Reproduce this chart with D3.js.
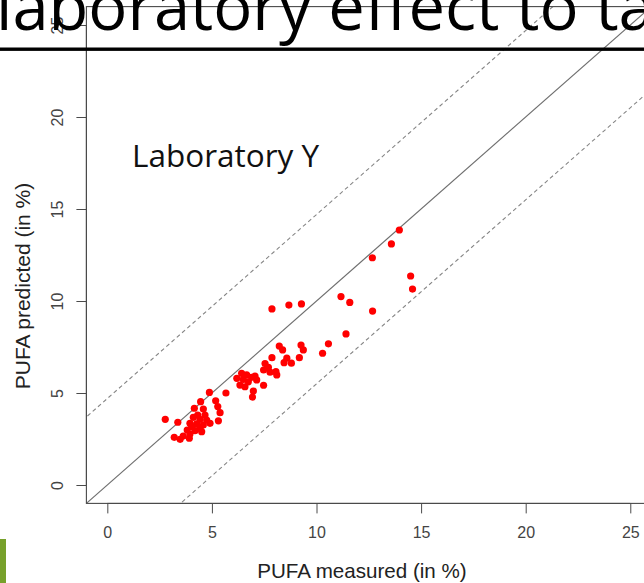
<!DOCTYPE html>
<html>
<head>
<meta charset="utf-8">
<script src="https://cdn.jsdelivr.net/npm/d3@7"></script>
<style>
  html, body { margin: 0; padding: 0; background: #fff; }
  svg { display: block; }
</style>
</head>
<body>
<script>
// PUFA content: reference measurement vs. model prediction, Laboratory Y
const measured = [
  13.96, 13.58, 12.67, 14.50, 14.59, 11.17, 11.59, 12.68, 7.87, 8.68,
  9.28, 11.41, 10.57, 10.29, 8.22, 8.38, 9.26, 9.37, 7.87, 9.18,
  8.58, 8.80, 8.45, 7.54, 7.70, 7.47, 8.06, 7.78, 8.10, 7.47,
  6.98, 6.94, 5.67, 4.88, 6.42, 6.66, 6.90, 6.19, 6.50, 6.74,
  7.06, 6.34, 6.58, 7.14, 2.77, 3.37, 4.46, 5.18, 5.28, 4.16,
  4.59, 5.39, 4.67, 4.32, 4.11, 4.43, 4.75, 4.91, 5.31, 4.27,
  3.95, 4.59, 4.43, 4.03, 3.82, 4.19, 4.51, 3.95, 3.63, 3.20,
  3.48, 3.92
];
const predicted = [
  13.86, 13.10, 12.35, 11.36, 10.65, 10.24, 9.92, 9.45, 9.57, 9.78,
  9.84, 8.21, 7.67, 7.16, 7.55, 7.34, 7.61, 7.34, 6.92, 6.92,
  6.89, 6.62, 6.65, 6.60, 6.40, 6.25, 6.16, 6.13, 5.98, 5.42,
  5.11, 4.78, 5.00, 5.03, 6.07, 5.98, 5.85, 5.80, 5.74, 5.61,
  5.92, 5.43, 5.34, 5.71, 3.57, 3.41, 4.53, 4.58, 4.26, 4.17,
  4.13, 3.93, 3.80, 3.80, 3.68, 3.57, 3.53, 3.35, 3.49, 3.32,
  3.35, 3.26, 3.08, 3.17, 2.99, 2.95, 2.90, 2.77, 2.66, 2.59,
  2.48, 2.54
];
const xTicks = [0, 5, 10, 15, 20, 25];
const yTicks = [0, 5, 10, 15, 20, 25];
// tolerance bands, as offsets from the identity line y = x
const bandOffsets = [4.7, -4.5];
const axisDomain = [-1, 26];

const W = 644, H = 583;
const svg = d3.select("body").append("svg")
  .attr("width", W).attr("height", H)
  .style("background", "#fff");

const x = d3.scaleLinear().domain(axisDomain).range([86.4, 651.2]);
const y = d3.scaleLinear().domain(axisDomain).range([503.4, 6.6]);

svg.append("defs").append("clipPath").attr("id", "plotClip")
  .append("rect")
  .attr("x", x(axisDomain[0])).attr("y", y(axisDomain[1]))
  .attr("width", x(axisDomain[1]) - x(axisDomain[0]))
  .attr("height", y(axisDomain[0]) - y(axisDomain[1]));

const plot = svg.append("g").attr("clip-path", "url(#plotClip)");

// y = x
plot.append("line")
  .attr("x1", x(axisDomain[0])).attr("y1", y(axisDomain[0]))
  .attr("x2", x(axisDomain[1])).attr("y2", y(axisDomain[1]))
  .attr("stroke", "#6e6e6e").attr("stroke-width", 1.2);

// tolerance bands
bandOffsets.forEach(c => {
  const lo = axisDomain[0] - 10, hi = axisDomain[1] + 10;
  plot.append("line")
    .attr("x1", x(lo)).attr("y1", y(lo + c))
    .attr("x2", x(hi)).attr("y2", y(hi + c))
    .attr("stroke", "#858585").attr("stroke-width", 1.1)
    .attr("stroke-dasharray", "4,3");
});

// samples
plot.selectAll("circle.pt")
  .data(d3.range(measured.length))
  .join("circle")
  .attr("class", "pt")
  .attr("cx", i => x(measured[i]))
  .attr("cy", i => y(predicted[i]))
  .attr("r", 3.6)
  .attr("fill", "#ff0000");

// frame
svg.append("rect")
  .attr("x", x(axisDomain[0])).attr("y", y(axisDomain[1]))
  .attr("width", x(axisDomain[1]) - x(axisDomain[0]))
  .attr("height", y(axisDomain[0]) - y(axisDomain[1]))
  .attr("fill", "none").attr("stroke", "#4a4a4a").attr("stroke-width", 1.1);

const tickFont = "'Liberation Sans', Arial, sans-serif";

// x axis
const xAxis = svg.append("g")
  .attr("transform", `translate(0,${y(axisDomain[0])})`)
  .call(d3.axisBottom(x).tickValues(xTicks).tickSize(10).tickPadding(13).tickFormat(d3.format("d")));
xAxis.select(".domain").attr("d", `M${x(0)},0H${x(25)}`).attr("stroke", "#4a4a4a");
xAxis.selectAll(".tick line").attr("stroke", "#4a4a4a");
xAxis.selectAll(".tick text")
  .attr("font-family", tickFont).attr("font-size", 16).attr("fill", "#444");

// y axis (labels parallel to the axis)
const yAxis = svg.append("g")
  .attr("transform", `translate(${x(axisDomain[0])},0)`)
  .call(d3.axisLeft(y).tickValues(yTicks).tickSize(10).tickFormat(d3.format("d")));
yAxis.select(".domain").attr("d", `M0,${y(0)}V${y(25)}`).attr("stroke", "#4a4a4a");
yAxis.selectAll(".tick line").attr("stroke", "#4a4a4a");
yAxis.selectAll(".tick text")
  .attr("font-family", tickFont).attr("font-size", 16).attr("fill", "#444")
  .attr("x", null).attr("dy", null)
  .attr("text-anchor", "middle")
  .attr("transform", "translate(-23,0) rotate(-90)");

// axis titles
svg.append("text")
  .attr("x", 362).attr("y", 578)
  .attr("text-anchor", "middle")
  .attr("font-family", tickFont).attr("font-size", 20.6).attr("fill", "#222")
  .text("PUFA measured (in %)");

svg.append("text")
  .attr("transform", "translate(30,286) rotate(-90)")
  .attr("text-anchor", "middle")
  .attr("font-family", tickFont).attr("font-size", 21).attr("fill", "#222")
  .text("PUFA predicted (in %)");

// panel label
svg.append("text")
  .attr("x", 132).attr("y", 167)
  .attr("font-family", "'Open Sans', sans-serif").attr("font-size", 31.5).attr("fill", "#111")
  .text("Laboratory Y");

// slide heading and rule
svg.append("text")
  .attr("x", -4).attr("y", 30)
  .attr("font-family", "'Open Sans', sans-serif").attr("font-size", 65).attr("fill", "#000")
  .text("laboratory effect to ta");

svg.append("rect")
  .attr("x", 0).attr("y", 47.5).attr("width", W).attr("height", 3.4)
  .attr("fill", "#000");

svg.append("rect")
  .attr("x", 0).attr("y", 539).attr("width", 6).attr("height", H - 539)
  .attr("fill", "#77a12b");
</script>
</body>
</html>
